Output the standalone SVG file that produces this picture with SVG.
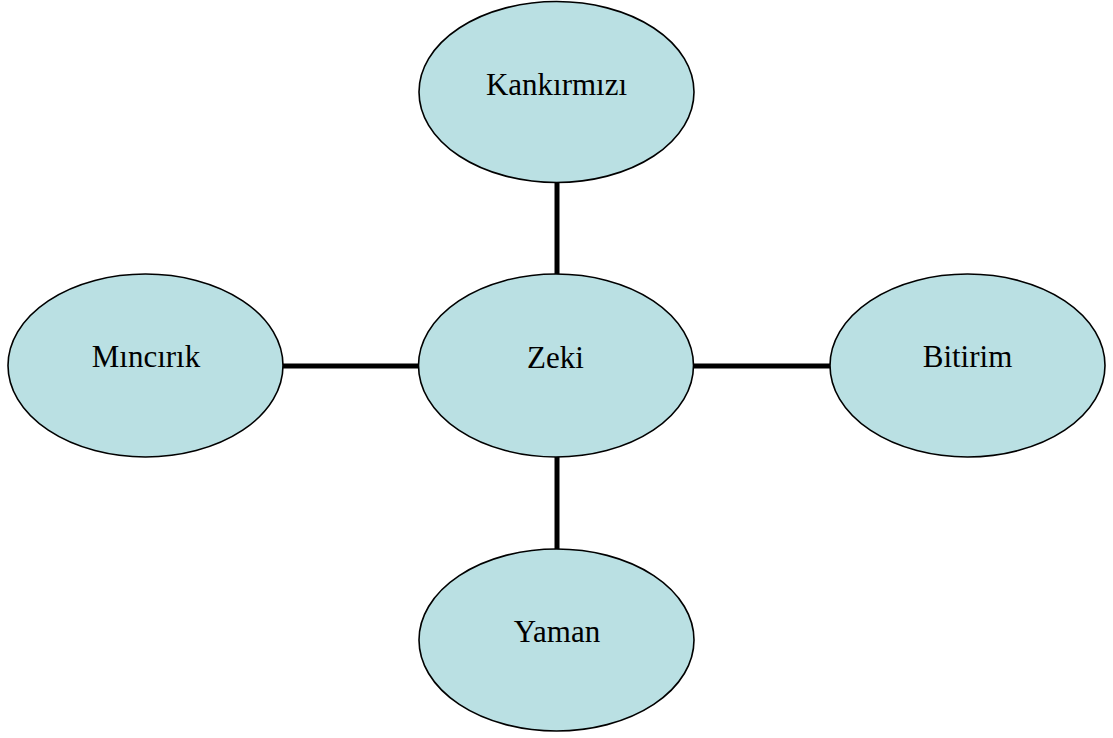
<svg xmlns="http://www.w3.org/2000/svg" width="1113" height="738" viewBox="0 0 1113 738">
<style>
.node ellipse{fill:#BAE0E3;stroke:#000;stroke-width:1.6}
.node text{font-family:"Liberation Serif","Times New Roman",serif;font-size:31px;fill:#000;text-anchor:middle}
.conn line{stroke:#000;stroke-width:5}
</style>
<rect width="1113" height="738" fill="#fff"/>
<g id="connectors" class="conn">
<line x1="557" y1="182" x2="557" y2="275"/>
<line x1="557" y1="456" x2="557" y2="550"/>
<line x1="282" y1="366" x2="420" y2="366"/>
<line x1="692" y1="366" x2="831" y2="366"/>
</g>
<g id="kankirmizi" class="node"><ellipse cx="556.5" cy="92" rx="137.5" ry="90.5"/><text x="556.5" y="95">Kankırmızı</text></g>
<g id="mincirik" class="node"><ellipse cx="145.5" cy="365.5" rx="137.5" ry="91.5"/><text x="146" y="367">Mıncırık</text></g>
<g id="zeki" class="node"><ellipse cx="556" cy="365.5" rx="137.5" ry="91.5"/><text x="555.5" y="368">Zeki</text></g>
<g id="bitirim" class="node"><ellipse cx="967.5" cy="365.5" rx="137.5" ry="91.5"/><text x="967.5" y="367">Bitirim</text></g>
<g id="yaman" class="node"><ellipse cx="556.5" cy="640" rx="137.5" ry="91"/><text x="557" y="642">Yaman</text></g>
</svg>
